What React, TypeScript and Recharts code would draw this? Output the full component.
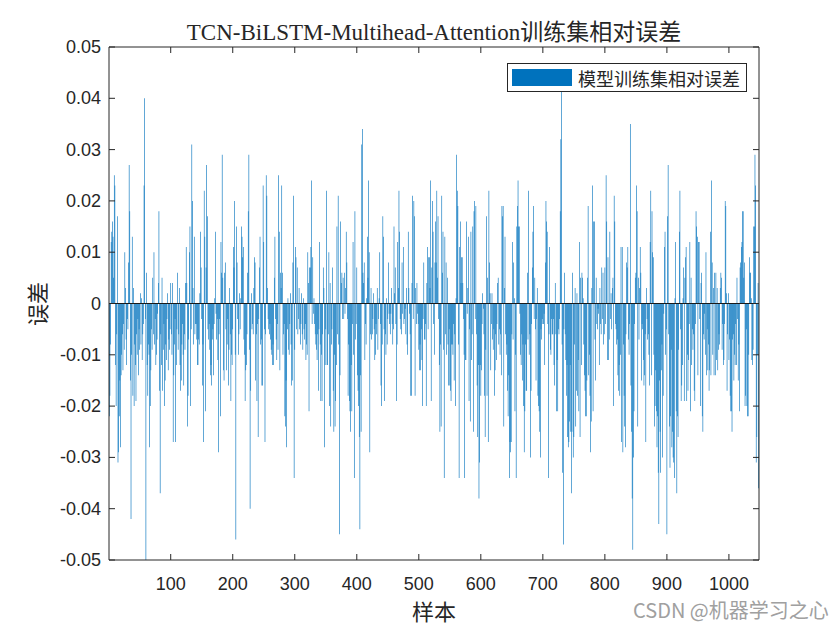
import { Bar, BarChart, Legend, ReferenceLine, XAxis, YAxis } from 'recharts';

document.body.style.margin = '0';

// relative error per sample, in units of 0.001
const seg1 = [
  -22, -18, -8, 12, 14, 16, 13, 5, 25, 23,
  -12, -20, -6, 17, -31, -29, -22, -15, -28, -14,
  -10, -6, -13, -4, -9, 10, 3, -7, -12, -3,
  -5, 8, 27, 18, -15, -42, -10, 13, -18, 3,
  -20, -8, -12, -19, -6, -10, -3, -14, -5, -9,
  2, -8, 1, -11, -6, -4, 23, 40, -3, -50,
  6, -12, -18, -8, -10, -28, -20, -13, -5, -9,
  5, -6, 10, -8, -3, -12, -10, -7, -2, 4,
  18, -17, -37, -6, -12, 5, -17, -9, -4, -20,
  -15, -8, -11, -3, 2, -13, -7, -9, -5, 4,
  -6, -10, 4, -27, -14, -8, -3, -27, -12, -5, 6, -9, -6, 3,
];
const seg2 = [
  -12, -17, -15, -8, -4, -10, -16, -6, -9, 4,
  11, 4, -24, -18, -7, 10, 15, -20, -5, 31,
  20, 3, -8, 13, -6, -4, -4, -7, -12, -12,
  -7, -8, 2, 14, 7, -3, -16, -8, -27, 22,
  13, -21, 7, 27, 17, -5, -7, -4, -9, -14,
  -12, -16, -7, -5, -14, -4, 1, 14, -2, -7,
  -3, -11, -29, -6, -3, -22, 12, 6, 29, 5,
  -13, -15, 6, 8, -5, -13, -8, -3, -16, -9,
  3, -6, -19, -10, -12, -5, 11, 7, 20, -10,
  -46, 15, 8, -3, -10, -6, 2, -5, 1, 15,
  13, 9, 11, -7, -10, -19, -13, -12, -6, 6,
  18, 29, -9, -40, -17, 2, -5, -4, -6, 3,
  9,
];
const seg3 = [
  8, -15, -6, -19, -4, -26, -3, 7, 13, -8,
  -7, -16, -16, 23, 12, -5, -27, -6, 25, 21,
  3, -3, -5, -6, -4, -7, -9, -10, -12, -8,
  -12, 5, 13, -3, -7, -11, -4, -9, 25, 14,
  -13, 6, 3, 23, 6, -10, -6, -4, -22, -24,
  -15, -28, -5, 1, -9, -10, -4, 2, -8, -16,
  -15, 8, 21, -34, -9, 11, 9, -5, 7, -6,
  -3, 3, -5, -8, -4, 2, -6, -9, 1, -5,
  -7, -4, -11, -8, -10, 10, 4, -21, 7, 7,
  11, 24, -4, 9, -2, 1, -4, -6, -8, -9,
  -11, -6, -17, -5, 12, -8, -19, -10, -19, -6,
  7, 3, -28, -12, -5, 22, -12, -12, -6, 10,
  -20, 4,
];
const seg4 = [
  -24, -8, -5, 7, -17, -25, -10, -24, -19, -12,
  15, -6, 21, -8, -45, -14, 16, 4, 6, -3,
  5, -3, 6, -2, 3, 14, 8, -3, -18, -8,
  -19, -21, -25, -12, -21, -4, 12, -10, -34, 18,
  -7, -4, 7, -14, -17, -20, -26, -44, -14, -25,
  31, 34, 6, 4, 8, -11, -4, -8, 1, 13,
  5, 24, 10, -29, -6, 3, -7, -6, -3, 2,
  -5, -11, -10, -4, -6, 3, -9, -3, 1, 10,
  -4, -16, -20, -8, 17, 13, -5, -19, -6, -10,
  1, -8, -3, 8, -2, -4, -6, -2, 3, -4,
  -8, -5, 15, 2, 7, -4, -19, -8, 12, 3,
  22, 14, -3, -5, -6, 8, -2, 11, -4, -3,
  -1,
];
const seg5 = [
  -6, 3, -8, -10, 14, 3, -2, -6, -18, -18,
  4, 21, -3, 20, 17, -18, 3, -4, 4, -2,
  -4, -9, -13, -8, -13, -5, -11, -20, -3, 8,
  -7, -7, -4, -20, 4, 11, -5, 9, 9, 3,
  24, -19, 7, 20, 14, -4, -10, 8, 16, 8,
  22, 5, 17, -3, -12, -25, -8, -24, 21, 6,
  14, -9, -34, 13, -6, 8, -10, 5, -8, -16,
  -5, -16, -17, -19, -8, -8, -10, -4, -15, -6,
  -20, 1, 29, 22, 19, -8, -34, 11, 16, 4,
  9, 9, 4, -3, -10, -34, -11, -11, 16, -2,
  3, 13, -19, -5, -23, 14, -11, -6, 15, -25,
  18, 20, -3, 19, -6, -16, -26, -12, -38, -31,
];
const seg6 = [
  -12, -18, -13, -4, 2, -1, -6, -18, -26, -9,
  17, -18, 5, -27, 22, 8, 2, -13, -4, 2,
  -7, -9, -5, -18, -13, -6, -11, -4, 4, 5,
  -8, -5, -10, -6, -14, 19, 17, 19, -24, 3,
  13, -6, -10, -8, -17, -22, -14, -34, -27, -29,
  -27, -6, 12, -7, 8, 1, -21, -10, -34, 15,
  19, 24, 15, 15, -2, -10, -12, -6, -15, -8,
  -20, -29, -21, -8, -17, -17, 6, -7, 22, -10,
  -6, -30, -17, -4, 7, 14, 19, -3, 5, -5,
  -15, -3, 3, -18, -20, -21, -25, -30, -5, -7,
  -3, -4, -4, -2, -12, 8, 20, 16, 14, -4,
  -34, -6, 11, -9, -10, -3, -6, -6, -3, -12,
  -16,
];
const seg7 = [
  4, -6, -21, -11, -21, -5, -6, -3, 18, 32,
  43, -8, -33, -47, -5, 6, -6, -11, -18, -12,
  -26, -28, -27, -23, -12, -25, -37, -25, 6, -30,
  -26, -8, 3, -24, -17, 2, -18, -11, -21, 12,
  -26, 5, -12, 6, 5, 1, -8, -14, -17, -22,
  -22, -15, 5, 19, -14, -10, -18, -29, -23, 3,
  23, -21, 16, 16, -7, -15, 5, -4, -5, -1,
  -2, -12, 3, -4, -6, 7, -3, 6, -8, -6,
  7, -4, 25, 16, -11, 9, -11, -7, 14, -3,
  2, -5, 3, 5, -20, 21, 16, -4, -5, -8,
  -7, -14, -17, -12, -18, -10, 11, -27, 11, -29,
  -8, -18, -24, -28, -6, 8, 7, 11, -7, -10,
  -4,
];
const seg8 = [
  35, -16, -25, -38, -48, -30, -21, -4, 5, 6,
  23, 18, -24, 5, -7, 3, 11, 6, -15, -4,
  -5, -11, -16, -14, -6, -27, 3, -3, -7, -6,
  -10, -16, 12, 22, -14, 18, 10, 9, -10, -24,
  -20, -13, -21, -28, -22, -33, -43, -15, -25, -33,
  -13, -8, -30, -18, -2, 11, 14, -10, -5, -45,
  17, 27, -6, -24, -32, -22, -9, -28, -25, -30,
  -31, -34, 1, 12, -21, -37, -22, -26, -9, 14,
  22, -5, -19, -16, -12, 1, 7, -19, 5, 9,
  11, -19, -10, -17, -11, -4, 12, -21, 5, -12,
  -5, -9, -6, -17, -19, -4, 18, 15, 13, -14,
  12, 12, -3, -20, 4, 6, -22, -25, -6, -7,
  -2,
];
const seg9 = [
  -10, 10, -14, -5, -13, -8, -17, -13, 14, -14,
  24, 8, -10, 3, -14, 6, -14, 6, -11, 3,
  -13, -9, -6, -8, 3, 6, 5, -9, -4, -12,
  -11, -4, 20, 19, 2, -17, -6, 2, -11, -7,
  -18, -21, -21, -25, -7, -6, -15, -10, -12, -4,
  -12, 5, -3, -15, -8, -21, 7, 8, 11, 12,
  18, 18, 5, 8, -20, -18, -5, -20, -22, -22,
  -10, 9, 6, 6, 1, -11, -12, -9, 15, 15,
  29, 23, -31, -26, -10, 4, -36,
];

const relErr = [...seg1, ...seg2, ...seg3, ...seg4, ...seg5, ...seg6, ...seg7, ...seg8, ...seg9].map(v => v / 1000);
const data = relErr.map((err, i) => ({ idx: i + 1, err }));

const xTicks = [100, 200, 300, 400, 500, 600, 700, 800, 900, 1000];
const yTicks = [-0.05, -0.04, -0.03, -0.02, -0.01, 0, 0.01, 0.02, 0.03, 0.04, 0.05];

const W = 840, H = 630;
const LEFT = 109, RIGHT = 759, TOP = 47, BOTTOM = 560;
const AXIS = '#262626';
const BLUE = '#0072BD';
const SANS = '"Liberation Sans", Arial, sans-serif';
const CJK = '"Noto Sans CJK SC", sans-serif';

const fmtY = (v: number) => (v === 0 ? '0' : v.toFixed(2));

const BottomTick = ({ x, payload }: any) => (
  <g>
    <line x1={x} x2={x} y1={BOTTOM} y2={BOTTOM - 6} stroke={AXIS} />
    <text x={x} y={BOTTOM + 30} textAnchor="middle" fontSize={18} fill={AXIS} fontFamily={SANS}>{payload.value}</text>
  </g>
);
const TopTick = ({ x }: any) => <line x1={x} x2={x} y1={TOP} y2={TOP + 6} stroke={AXIS} />;
const LeftTick = ({ y, payload }: any) => (
  <g>
    <line x1={LEFT} x2={LEFT + 6} y1={y} y2={y} stroke={AXIS} />
    <text x={LEFT - 8} y={y + 6} textAnchor="end" fontSize={18} fill={AXIS} fontFamily={SANS}>{fmtY(payload.value)}</text>
  </g>
);
const RightTick = ({ y }: any) => <line x1={RIGHT} x2={RIGHT - 6} y1={y} y2={y} stroke={AXIS} />;

const LegendBox = () => (
  <div style={{ width: 240, height: 29, boxSizing: 'border-box', border: `1px solid ${AXIS}`, background: '#fff', display: 'flex', alignItems: 'center' }}>
    <div style={{ width: 60, height: 17, marginLeft: 4, background: BLUE }} />
    <span style={{ marginLeft: 6, fontSize: 18, fontFamily: CJK, color: AXIS, lineHeight: 1 }}>模型训练集相对误差</span>
  </div>
);

export default function App() {
  return (
    <div style={{ position: 'relative', width: W, height: H, background: '#fff' }}>
      <div style={{ position: 'absolute', top: 13, left: LEFT, width: RIGHT - LEFT, textAlign: 'center', fontSize: 23, color: AXIS, fontFamily: '"Liberation Serif", "Times New Roman", "Noto Sans CJK SC", serif', whiteSpace: 'nowrap' }}>
        TCN-BiLSTM-Multihead-Attention训练集相对误差
      </div>
      <BarChart width={W} height={H} data={data} margin={{ top: TOP - 1, right: W - RIGHT - 1, bottom: 30, left: 49 }} barCategoryGap={0} barGap={0}>
        <XAxis xAxisId="b" dataKey="idx" type="number" domain={[0.5, 1048.5]} ticks={xTicks} height={40} axisLine={{ stroke: AXIS }} tickLine={false} tick={<BottomTick />} interval={0} />
        <XAxis xAxisId="t" dataKey="idx" type="number" orientation="top" domain={[0.5, 1048.5]} ticks={xTicks} height={1} axisLine={{ stroke: AXIS }} tickLine={false} tick={<TopTick />} interval={0} />
        <YAxis yAxisId="l" type="number" domain={[-0.05, 0.05]} ticks={yTicks} width={60} axisLine={{ stroke: AXIS }} tickLine={false} tick={<LeftTick />} interval={0} allowDataOverflow />
        <YAxis yAxisId="r" type="number" orientation="right" domain={[-0.05, 0.05]} ticks={yTicks} width={1} axisLine={{ stroke: AXIS }} tickLine={false} tick={<RightTick />} interval={0} allowDataOverflow />
        <Bar xAxisId="b" yAxisId="l" dataKey="err" fill={BLUE} isAnimationActive={false} />
        <ReferenceLine xAxisId="b" yAxisId="l" y={0} stroke="#1a1a1a" strokeWidth={1} />
        <Legend content={<LegendBox />} layout="horizontal" verticalAlign="middle" align="center" wrapperStyle={{ left: 507, top: 63, width: 240, height: 29 }} />
      </BarChart>
      <div style={{ position: 'absolute', top: 594, left: 412, fontSize: 22, fontFamily: CJK, color: AXIS }}>样本</div>
      <div style={{ position: 'absolute', top: 304, left: 36, transform: 'translate(-50%, -50%) rotate(-90deg)', fontSize: 22, fontFamily: CJK, color: AXIS, whiteSpace: 'nowrap' }}>误差</div>
      <div style={{ position: 'absolute', top: 595, left: 633, fontSize: 20, fontFamily: CJK, color: '#a0a0a0', whiteSpace: 'nowrap' }}>CSDN @机器学习之心</div>
    </div>
  );
}
